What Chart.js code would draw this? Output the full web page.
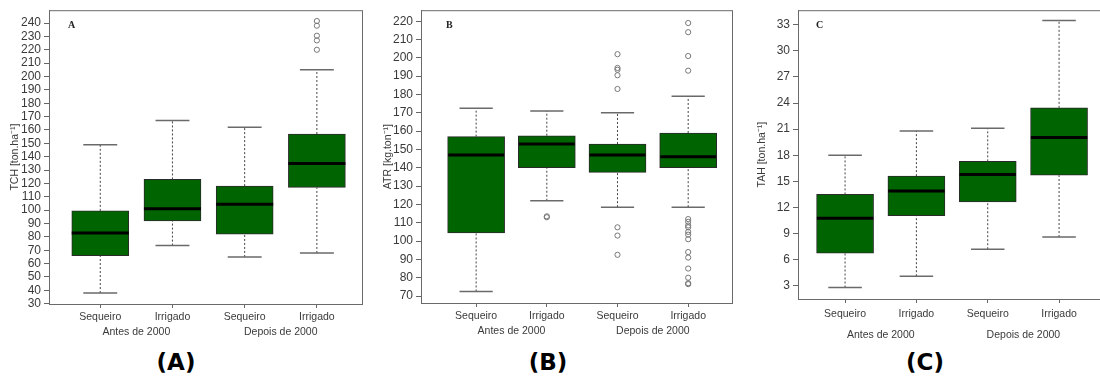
<!DOCTYPE html>
<html>
<head>
<meta charset="utf-8">
<script src="https://cdn.jsdelivr.net/npm/chart.js@4.4.0/dist/chart.umd.min.js"></script>
<style>
    body { margin: 0; background: #fff; width: 1100px; height: 378px; overflow: hidden; position: relative; }
    .panel { position: absolute; top: 0; height: 345px; }
    .tag { position: absolute; top: 349px; width: 80px; text-align: center; font: bold 23px "DejaVu Sans", sans-serif; color: #000; }
</style>
</head>
<body>
<div class="panel" style="left:0;width:370px"><canvas id="chartA"></canvas></div>
<div class="panel" style="left:370px;width:370px"><canvas id="chartB"></canvas></div>
<div class="panel" style="left:740px;width:370px"><canvas id="chartC"></canvas></div>
<div class="tag" style="left:136px">(A)</div>
<div class="tag" style="left:508px">(B)</div>
<div class="tag" style="left:885px">(C)</div>
<script>
// Categories shared by the three panels
const categories = ['Sequeiro', 'Irrigado', 'Sequeiro', 'Irrigado'];
const groups = ['Antes de 2000', 'Depois de 2000'];

// (A) TCH
const tchLow = [38, 73.5, 65, 68];
const tchQ1 = [66, 92, 82, 117];
const tchMed = [83, 101, 104.5, 135];
const tchQ3 = [99.5, 123, 118, 157];
const tchHigh = [149, 167, 162, 205];
const tchOut = [[], [], [], [241.5, 238, 230.5, 227, 220]];
const tchTicks = [30, 40, 50, 60, 70, 80, 90, 100, 110, 120, 130, 140, 150, 160, 170, 180, 190, 200, 210, 220, 230, 240];

// (B) ATR
const atrLow = [72.5, 122, 118.5, 118.5];
const atrQ1 = [104.5, 140, 137.5, 140];
const atrMed = [147, 153, 147, 146];
const atrQ3 = [157, 157.5, 153, 159];
const atrHigh = [172.5, 171, 170, 179];
const atrOut = [
    [],
    [113, 113.5],
    [202, 194.5, 193.5, 190.5, 183, 107.5, 103, 92.5],
    [219, 214, 201, 193, 112, 110.5, 108.5, 107.5, 105, 103.5, 101, 94, 91, 85, 80, 77, 76.5]
];
const atrTicks = [70, 80, 90, 100, 110, 120, 130, 140, 150, 160, 170, 180, 190, 200, 210, 220];

// (C) TAH
const tahLow = [2.8, 4.1, 7.2, 8.6];
const tahQ1 = [6.75, 11.05, 12.65, 15.7];
const tahMed = [10.75, 13.9, 15.8, 20.05];
const tahQ3 = [13.5, 15.6, 17.3, 23.45];
const tahHigh = [18, 20.8, 21.1, 33.5];
const tahOut = [[], [], [], []];
const tahTicks = [3, 6, 9, 12, 15, 18, 21, 24, 27, 30, 33];

const BOX_HALF = 0.395;
const CAP_HALF = 0.235;
const FONT = '"Liberation Sans", Arial, sans-serif';

// frame around the plot area + panel letter
const framePlugin = {
    id: 'frame',
    afterDraw(chart, args, opts) {
        const a = chart.chartArea;
        const ctx = chart.ctx;
        ctx.save();
        ctx.strokeStyle = '#6a6a6a';
        ctx.lineWidth = 1;
        ctx.strokeRect(a.left + 0.5, a.top + 0.5, a.right - a.left, a.bottom - a.top);
        ctx.fillStyle = '#222';
        ctx.font = 'bold 10px "Liberation Serif", serif';
        ctx.textBaseline = 'middle';
        ctx.fillText(opts.letter, a.left + opts.dx, a.top + 15);
        ctx.restore();
    }
};

function boxDatasets(low, q1, med, q3, high, out) {
    const boxes = [], medians = [], whiskers = [], caps = [], points = [];
    for (let i = 0; i < categories.length; i++) {
        const x = i + 1;
        boxes.push({ x: x, y: [q1[i], q3[i]] });
        medians.push({ x: x - BOX_HALF, y: med[i] }, { x: x + BOX_HALF, y: med[i] }, { x: x, y: null });
        whiskers.push({ x: x, y: q3[i] }, { x: x, y: high[i] }, { x: x, y: null });
        whiskers.push({ x: x, y: low[i] }, { x: x, y: q1[i] }, { x: x, y: null });
        caps.push({ x: x - CAP_HALF, y: high[i] }, { x: x + CAP_HALF, y: high[i] }, { x: x, y: null });
        caps.push({ x: x - CAP_HALF, y: low[i] }, { x: x + CAP_HALF, y: low[i] }, { x: x, y: null });
        out[i].forEach(v => points.push({ x: x, y: v }));
    }
    const line = { type: 'line', pointRadius: 0, spanGaps: false, fill: false, xAxisID: 'x' };
    return [
        { type: 'scatter', data: points, pointRadius: 2.6, pointBorderWidth: 1, pointBorderColor: '#777',
          pointBackgroundColor: 'rgba(0,0,0,0)', order: 0, xAxisID: 'x' },
        Object.assign({ data: medians, borderColor: '#000', borderWidth: 3, order: 1 }, line),
        Object.assign({ data: caps, borderColor: '#6a6a6a', borderWidth: 1.5, order: 2 }, line),
        Object.assign({ data: whiskers, borderColor: '#444', borderWidth: 1, borderDash: [2, 2], order: 3 }, line),
        { type: 'bar', data: boxes, backgroundColor: '#006400', borderColor: '#2a2a2a', borderWidth: 1,
          borderSkipped: false, barThickness: 57, order: 4, xAxisID: 'x' }
    ];
}

function makePanel(id, p) {
    const ctx = document.getElementById(id).getContext('2d');
    return new Chart(ctx, {
        type: 'bar',
        data: { datasets: boxDatasets(p.low, p.q1, p.med, p.q3, p.high, p.out) },
        options: {
            responsive: true,
            maintainAspectRatio: false,
            animation: false,
            layout: { padding: { top: p.top, right: p.right, left: 0, bottom: 0 } },
            plugins: {
                legend: { display: false },
                tooltip: { enabled: false },
                frame: { letter: p.letter, dx: p.letterDx }
            },
            scales: {
                y: {
                    type: 'linear',
                    min: p.yMin,
                    max: p.yMax,
                    afterBuildTicks: s => { s.ticks = p.ticks.map(v => ({ value: v })); },
                    afterFit: s => { s.width = p.yWidth; },
                    ticks: { autoSkip: false, color: '#3a3a3a', font: { family: FONT, size: 12 }, padding: 3 },
                    grid: { drawOnChartArea: false, tickLength: 5, color: '#666' },
                    border: { color: '#6a6a6a' },
                    title: { display: true, text: p.title, color: '#3a3a3a',
                             font: { family: FONT, size: 10.5 }, padding: { top: p.titlePad, bottom: 0 } }
                },
                x: {
                    type: 'linear',
                    position: 'bottom',
                    weight: 0,
                    min: p.xMin,
                    max: p.xMax,
                    offset: false,
                    afterBuildTicks: s => { s.ticks = categories.map((c, i) => ({ value: i + 1 })); },
                    afterFit: s => { s.height = p.xHeight; },
                    ticks: { autoSkip: false, maxRotation: 0, padding: p.xPad, color: '#3a3a3a',
                             font: { family: FONT, size: 10.5 },
                             callback: (v, i) => categories[i] },
                    grid: { drawOnChartArea: false, tickLength: 4, color: '#666', offset: false },
                    border: { color: '#6a6a6a' }
                },
                x2: {
                    type: 'linear',
                    position: 'bottom',
                    weight: 1,
                    min: p.xMin,
                    max: p.xMax,
                    offset: false,
                    afterBuildTicks: s => { s.ticks = groups.map((g, i) => ({ value: 2 * i + 1.5 })); },
                    afterFit: s => { s.height = p.x2Height; },
                    ticks: { autoSkip: false, maxRotation: 0, padding: p.x2Pad, color: '#3a3a3a',
                             font: { family: FONT, size: 10.5 },
                             callback: (v, i) => groups[i] },
                    grid: { display: false, drawTicks: false, tickLength: 0 },
                    border: { display: false }
                }
            }
        },
        plugins: [framePlugin]
    });
}

makePanel('chartA', {
    low: tchLow, q1: tchQ1, med: tchMed, q3: tchQ3, high: tchHigh, out: tchOut, ticks: tchTicks,
    title: 'TCH [ton.ha⁻¹]', letter: 'A', letterDx: 19,
    yMin: 29.8, yMax: 249.6, xMin: 0.29, xMax: 4.625,
    top: 8, right: 8, yWidth: 49, xHeight: 20, x2Height: 21, titlePad: 9, xPad: 3, x2Pad: 2
});

makePanel('chartB', {
    low: atrLow, q1: atrQ1, med: atrMed, q3: atrQ3, high: atrHigh, out: atrOut, ticks: atrTicks,
    title: 'ATR [kg.ton⁻¹]', letter: 'B', letterDx: 25,
    yMin: 66.2, yMax: 226, xMin: 0.22, xMax: 4.62,
    top: 8, right: 8, yWidth: 51, xHeight: 20, x2Height: 22, titlePad: 12, xPad: 3, x2Pad: 2
});

makePanel('chartC', {
    low: tahLow, q1: tahQ1, med: tahMed, q3: tahQ3, high: tahHigh, out: tahOut, ticks: tahTicks,
    title: 'TAH [ton.ha⁻¹]', letter: 'C', letterDx: 18,
    yMin: 1.48, yMax: 34.67, xMin: 0.34, xMax: 4.63,
    top: 7, right: 6, yWidth: 58, xHeight: 22, x2Height: 24, titlePad: 16, xPad: 5, x2Pad: 8
});
</script>
</body>
</html>
